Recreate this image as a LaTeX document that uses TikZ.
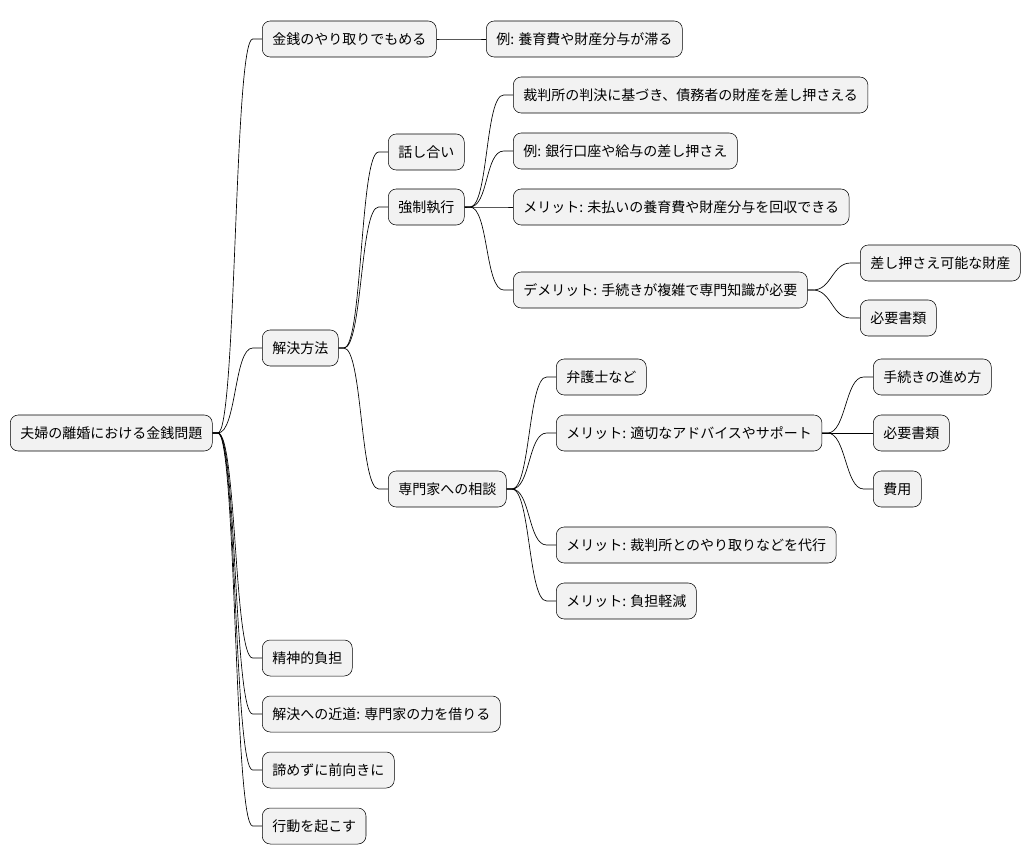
\documentclass[tikz,border=0pt]{standalone}
\usepackage{fontspec}
\setmainfont{Noto Sans CJK JP}
\tikzset{
  topic/.style={draw, fill=gray!10, rounded corners=6pt, anchor=west, minimum height=27pt, inner xsep=7.5pt, font=\fontsize{10.5pt}{12pt}\selectfont},
  branch/.style={draw, line width=0.5pt}
}
\begin{document}
\begin{tikzpicture}[x=0.75pt, y=-0.75pt]
	\useasboundingbox (0,0) rectangle (1030,865);
	% Raiz
	\node[topic] (root) at (10,433) {夫婦の離婚における金銭問題};
	% Primeiro nível
	\node[topic] (money) at (262,39) {金銭のやり取りでもめる};
	\node[topic] (solve) at (262,348) {解決方法};
	\node[topic] (mental) at (262,658) {精神的負担};
	\node[topic] (short) at (262,714) {解決への近道: 専門家の力を借りる};
	\node[topic] (never) at (262,770) {諦めずに前向きに};
	\node[topic] (act) at (262,826) {行動を起こす};
	\node[topic] (ex1) at (486,39) {例: 養育費や財産分与が滞る};
	% Métodos
	\node[topic] (talk) at (388,152) {話し合い};
	\node[topic] (force) at (388,207) {強制執行};
	\node[topic] (expert) at (388,489) {専門家への相談};
	% Execução forçada
	\node[topic] (court) at (513,95) {裁判所の判決に基づき、債務者の財産を差し押さえる};
	\node[topic] (bank) at (513,151) {例: 銀行口座や給与の差し押さえ};
	\node[topic] (merit1) at (513,207) {メリット: 未払いの養育費や財産分与を回収できる};
	\node[topic] (demerit) at (513,290) {デメリット: 手続きが複雑で専門知識が必要};
	\node[topic] (asset) at (860,263) {差し押さえ可能な財産};
	\node[topic] (docs1) at (860,318) {必要書類};
	% Consulta
	\node[topic] (lawyer) at (556,377) {弁護士など};
	\node[topic] (advice) at (556,433) {メリット: 適切なアドバイスやサポート};
	\node[topic] (proxy) at (556,545) {メリット: 裁判所とのやり取りなどを代行};
	\node[topic] (relief) at (556,601) {メリット: 負担軽減};
	\node[topic] (proc) at (873,377) {手続きの進め方};
	\node[topic] (docs2) at (873,433) {必要書類};
	\node[topic] (cost) at (873,489) {費用};
	% Ligações
	\foreach \p/\c in {root/money, root/solve, root/mental, root/short, root/never, root/act,
	                   money/ex1, solve/talk, solve/force, solve/expert,
	                   force/court, force/bank, force/merit1, force/demerit,
	                   demerit/asset, demerit/docs1,
	                   expert/lawyer, expert/advice, expert/proxy, expert/relief,
	                   advice/proc, advice/docs2, advice/cost}
		\draw[branch] (\p.east) -- ++(4pt,0) .. controls +(14pt,0) and +(-14pt,0) .. ([xshift=-7pt]\c.west) -- (\c.west);
\end{tikzpicture}
\end{document}
